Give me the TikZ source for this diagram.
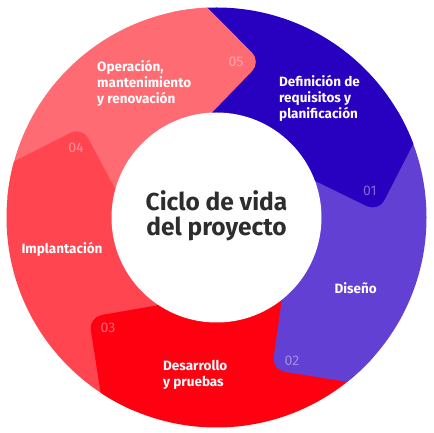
\documentclass[tikz,border=0pt]{standalone}
\usepackage{fontspec}
\setmainfont{Fira Sans}
\usetikzlibrary{calc}
\definecolor{cA}{RGB}{40,0,192}
\definecolor{cB}{RGB}{97,64,211}
\definecolor{cC}{RGB}{255,0,16}
\definecolor{cD}{RGB}{255,69,80}
\definecolor{cE}{RGB}{255,107,115}
\definecolor{ctext}{RGB}{45,45,45}
\tikzset{
  lbl/.style={text=white,font=\bfseries\fontsize{13.5}{16}\selectfont,inner sep=0pt,align=left},
  num/.style={text=white,opacity=0.4,text opacity=0.4,font=\fontsize{14}{16}\selectfont,inner sep=0pt},
  ttl/.style={text=ctext,font=\bfseries\fontsize{24.5}{25.5}\selectfont,inner sep=0pt,align=center}
}
% \wedgeseg{color}{start angle}{end angle}
\newcommand{\wedgeseg}[3]{\fill[#1] (0,0) -- (#2:260) arc[start angle=#2,end angle=#3,radius=260] -- cycle;}
% \tipseg{color}{base angle}{name}
\newcommand{\tipseg}[3]{%
  \coordinate (#3T) at (#2-18.5:162);
  \coordinate (#3O) at ($(#3T)!1.3!(#2:210)$);
  \coordinate (#3I) at ($(#3T)!1.8!(#2:105)$);
  \fill[#1,rounded corners=13pt] (#2+10:260) -- (#3O) -- (#3T) -- (#3I) -- (0,0) -- cycle;}
\begin{document}
\begin{tikzpicture}[x=1pt,y=1pt]
\useasboundingbox (0,0) rectangle (433,433);
\begin{scope}[shift={(216.5,215.5)}]
  \coordinate (ctr) at (0,0);
  \begin{scope}
    \clip (0,0) circle (210);
    \wedgeseg{cA}{92.5}{20.5}
    \wedgeseg{cB}{20.5}{-51.5}
    \wedgeseg{cC}{-51.5}{-123.5}
    \wedgeseg{cD}{-123.5}{-195.5}
    \wedgeseg{cE}{164.5}{92.5}
    \tipseg{cA}{20.5}{a}
    \tipseg{cB}{-51.5}{b}
    \tipseg{cC}{-123.5}{c}
    \tipseg{cD}{164.5}{d}
    \tipseg{cE}{92.5}{e}
  \end{scope}
  \fill[white] (0,0) circle (105);
\end{scope}
\node[ttl] (title) at (216.5,217) {Ciclo de vida\\del proyecto};
\node[lbl,anchor=west] (l1) at (279,335) {Definición de\\requisitos y\\planificación};
\node[lbl] (l2) at (355.7,144.7) {Diseño};
\node[lbl,anchor=west] (l3) at (163,58) {Desarrollo\\y pruebas};
\node[lbl] (l4) at (62,184) {Implantación};
\node[lbl,anchor=west] (l5) at (97,350) {Operación,\\mantenimiento\\y renovación};
\node[num] (n1) at (370,242) {01};
\node[num] (n2) at (292,72) {02};
\node[num] (n3) at (108,105) {03};
\node[num] (n4) at (76,285) {04};
\node[num] (n5) at (236,371) {05};
\end{tikzpicture}
\end{document}
